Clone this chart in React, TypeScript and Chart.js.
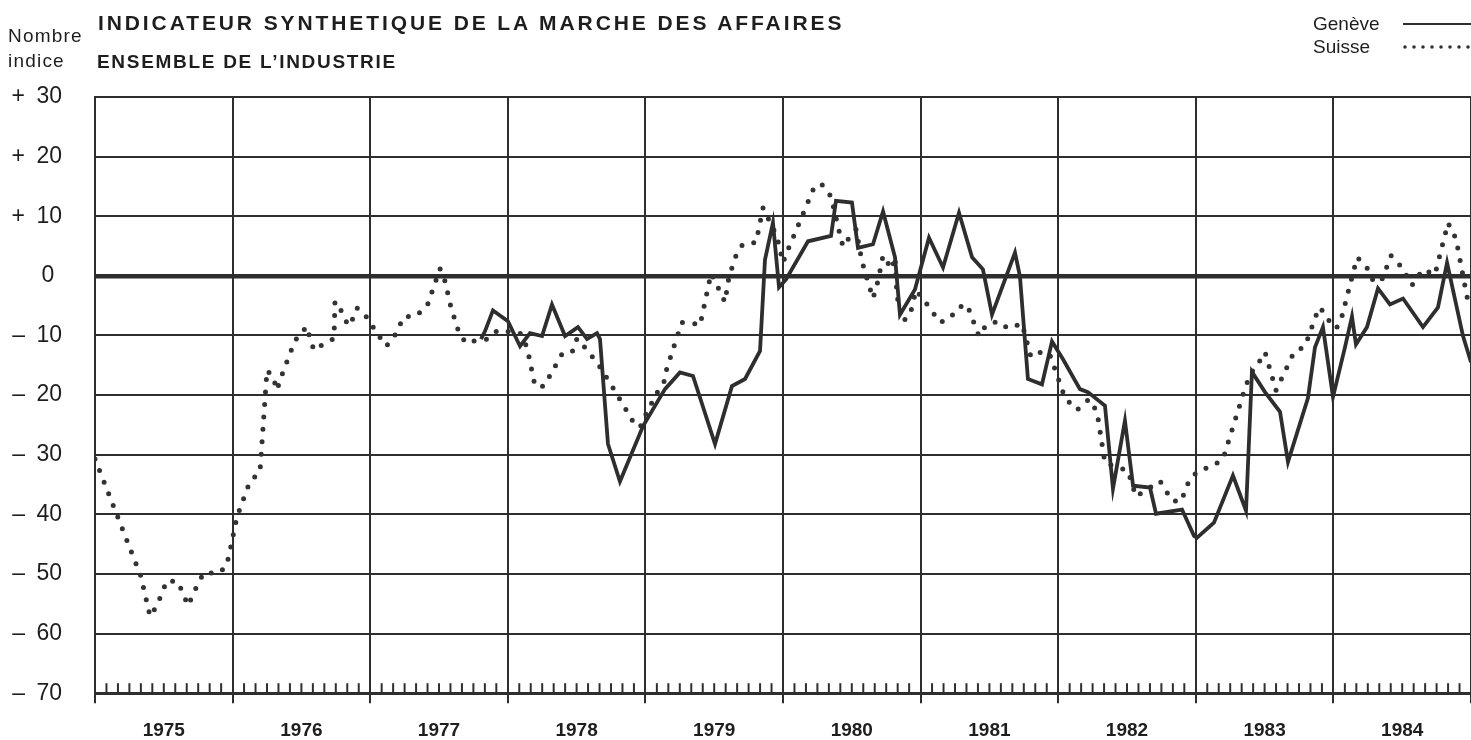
import React, { useEffect, useRef } from 'react';
import { Chart, registerables } from 'chart.js';

Chart.register(...registerables);

// Year boundaries (vertical grid) and year labels (centred in each year)
const years = [1975, 1976, 1977, 1978, 1979, 1980, 1981, 1982, 1983, 1984, 1985];
const yearLabels = ['1975', '1976', '1977', '1978', '1979', '1980', '1981', '1982', '1983', '1984'];
const yTicks = [30, 20, 10, 0, -10, -20, -30, -40, -50, -60, -70];

// Suisse (dotted line): time in decimal years, index value
const suisseT = [
  1975.0, 1975.334, 1975.4, 1975.45, 1975.523, 1975.603, 1975.676, 1975.749, 1975.792, 1975.894,
  1975.952, 1975.974, 1976.032, 1976.126, 1976.199, 1976.25, 1976.294, 1976.323, 1976.344, 1976.446,
  1976.475, 1976.541, 1976.562, 1976.592, 1976.65, 1976.737, 1976.744, 1976.802, 1976.839, 1976.882,
  1976.904, 1976.955, 1977.013, 1977.064, 1977.115, 1977.166, 1977.246, 1977.326, 1977.413, 1977.507,
  1977.544, 1977.587, 1977.645, 1977.696, 1977.776, 1977.849, 1977.929, 1978.089, 1978.14, 1978.198,
  1978.263, 1978.307, 1978.401, 1978.474, 1978.503, 1978.583, 1978.67, 1978.765, 1978.866, 1978.917,
  1978.961, 1979.012, 1979.092, 1979.142, 1979.15, 1979.208, 1979.266, 1979.339, 1979.397, 1979.477,
  1979.542, 1979.578, 1979.608, 1979.666, 1979.709, 1979.804, 1979.855, 1979.956, 1980.0, 1980.036,
  1980.182, 1980.218, 1980.276, 1980.349, 1980.414, 1980.436, 1980.472, 1980.531, 1980.574, 1980.654,
  1980.69, 1980.727, 1980.792, 1980.814, 1980.828, 1980.872, 1980.923, 1980.967, 1981.032, 1981.141,
  1981.214, 1981.272, 1981.337, 1981.424, 1981.475, 1981.562, 1981.635, 1981.737, 1981.802, 1981.89,
  1981.94, 1982.035, 1982.071, 1982.137, 1982.224, 1982.282, 1982.34, 1982.507, 1982.565, 1982.74,
  1982.827, 1982.892, 1982.958, 1983.038, 1983.118, 1983.198, 1983.365, 1983.408, 1983.445, 1983.503,
  1983.583, 1983.714, 1983.794, 1983.895, 1983.946, 1983.99, 1984.026, 1984.062, 1984.172, 1984.237,
  1984.295, 1984.353, 1984.419, 1984.499, 1984.571, 1984.651, 1984.738, 1984.833, 1984.891, 1984.978,
];
const suisseV = [
  -30.7, -50.4, -57.1, -55.3, -51.1, -51.3, -55.3, -51.6, -49.8, -49.9,
  -48.8, -46.9, -40.4, -34.5, -32.9, -15.8, -17.0, -19.2, -17.5, -11.3,
  -10.1, -8.5, -10.5, -12.5, -11.6, -10.5, -4.3, -6.3, -8.4, -6.9,
  -5.4, -6.3, -8.3, -10.1, -11.8, -10.6, -6.8, -6.8, -5.1, 1.2,
  -0.9, -5.3, -9.5, -11.3, -10.8, -10.6, -9.1, -9.6, -12.0, -18.5,
  -18.5, -16.7, -12.8, -12.6, -10.5, -12.6, -15.3, -18.8, -22.7, -24.7,
  -25.4, -22.8, -19.3, -17.5, -16.0, -11.8, -7.8, -7.9, -8.3, 0.4,
  -2.6, -4.4, -0.1, 3.9, 5.3, 5.6, 11.4, 6.6, 2.2, 4.4,
  12.4, 14.4, 15.5, 13.3, 6.9, 4.9, 6.1, 7.8, 2.4, -3.8,
  -0.9, 3.4, 1.1, 3.2, -3.4, -7.6, -6.6, -2.4, -4.3, -7.8,
  -7.1, -5.3, -4.8, -10.1, -8.3, -7.6, -8.8, -8.0, -13.6, -12.6,
  -13.3, -19.5, -21.0, -22.5, -20.7, -22.8, -31.4, -32.7, -37.0, -34.4,
  -37.7, -37.9, -33.9, -32.5, -32.0, -30.7, -18.3, -16.1, -15.0, -12.8,
  -19.2, -12.8, -11.8, -5.3, -6.4, -8.6, -8.6, -6.8, 3.1, 1.7,
  -1.1, -0.6, 3.4, 1.4, -1.6, 1.1, 0.2, 8.9, 6.2, -4.3,
];

// Genève (solid line)
const geneveT = [
  1977.805, 1977.834, 1977.892, 1978.001, 1978.089, 1978.161, 1978.249, 1978.321, 1978.416, 1978.51,
  1978.576, 1978.648, 1978.67, 1978.728, 1978.815, 1978.983, 1979.142, 1979.251, 1979.346, 1979.506,
  1979.629, 1979.724, 1979.833, 1979.869, 1979.927, 1979.971, 1980.022, 1980.182, 1980.349, 1980.385,
  1980.501, 1980.545, 1980.654, 1980.727, 1980.814, 1980.85, 1980.959, 1981.061, 1981.163, 1981.279,
  1981.374, 1981.453, 1981.519, 1981.686, 1981.722, 1981.78, 1981.882, 1981.955, 1982.035, 1982.158,
  1982.216, 1982.34, 1982.398, 1982.485, 1982.544, 1982.667, 1982.711, 1982.9, 1982.987, 1983.009,
  1983.132, 1983.27, 1983.365, 1983.408, 1983.503, 1983.612, 1983.67, 1983.815, 1983.866, 1983.924,
  1983.997, 1984.084, 1984.135, 1984.164, 1984.244, 1984.324, 1984.411, 1984.506, 1984.651, 1984.76,
  1984.826, 1984.942, 1985.0,
];
const geneveV = [
  -10.6, -9.3, -5.8, -7.6, -11.8, -9.6, -10.1, -4.8, -10.1, -8.6,
  -10.6, -9.6, -10.6, -28.2, -34.5, -25.2, -19.0, -16.2, -16.8, -28.2,
  -18.5, -17.3, -12.6, 2.7, 8.9, -1.9, -0.6, 5.8, 6.7, 12.6,
  12.3, 4.7, 5.3, 10.8, 3.1, -6.5, -2.3, 6.4, 1.4, 10.6,
  3.1, 1.1, -6.5, 3.9, -0.1, -17.3, -18.2, -11.0, -14.0, -19.0,
  -19.5, -21.8, -35.7, -24.3, -35.2, -35.5, -39.9, -39.2, -43.6, -43.9,
  -41.4, -33.5, -39.4, -16.1, -19.5, -22.8, -31.2, -20.5, -12.0, -8.6,
  -20.3, -12.0, -6.8, -11.5, -8.6, -2.1, -4.8, -3.8, -8.6, -5.3,
  2.2, -10.1, -14.5,
];

const INK = '#2e2e2e';

function isYear(v: number) {
  return Math.abs(v - Math.round(v)) < 0.01;
}

export default function App() {
  const ref = useRef<HTMLCanvasElement | null>(null);

  useEffect(() => {
    if (!ref.current) return;

    const tickValues: number[] = [];
    years.forEach((y, i) => {
      tickValues.push(y);
      if (i < yearLabels.length) tickValues.push(y + 0.5);
    });

    const minorTicks = {
      id: 'minorTicks',
      afterDatasetsDraw(chart: any) {
        const { ctx, chartArea, scales } = chart;
        const xs = scales.x;
        ctx.save();
        ctx.strokeStyle = INK;
        ctx.lineWidth = 2;
        ctx.lineCap = 'butt';
        for (let i = 0; i < yearLabels.length; i++) {
          for (let m = 1; m < 12; m++) {
            const px = xs.getPixelForValue(years[i] + m / 12);
            if (px > chartArea.right) continue;
            ctx.beginPath();
            ctx.moveTo(px, chartArea.bottom);
            ctx.lineTo(px, chartArea.bottom - 10);
            ctx.stroke();
          }
        }
        ctx.restore();
      },
    };

    const chart = new Chart(ref.current, {
      type: 'line',
      data: {
        datasets: [
          {
            label: 'Genève',
            data: geneveT.map((t, i) => ({ x: t, y: geneveV[i] })),
            borderColor: INK,
            borderWidth: 3.8,
            pointRadius: 0,
            tension: 0,
            borderJoinStyle: 'miter',
          },
          {
            label: 'Suisse',
            data: suisseT.map((t, i) => ({ x: t, y: suisseV[i] })),
            borderColor: '#333333',
            borderWidth: 5,
            borderDash: [0, 12.5],
            borderCapStyle: 'round',
            pointRadius: 0,
            tension: 0,
          },
        ],
      },
      options: {
        responsive: false,
        animation: false,
        layout: { padding: { top: 97, right: 0, left: 0, bottom: 0 } },
        plugins: { legend: { display: false }, tooltip: { enabled: false } },
        scales: {
          x: {
            type: 'linear',
            min: 1975,
            max: 1985,
            afterBuildTicks: (ax: any) => {
              ax.ticks = tickValues.map((v) => ({ value: v }));
            },
            afterFit: (ax: any) => {
              ax.height = 45;
              ax.paddingLeft = 0;
              ax.paddingRight = 0;
            },
            ticks: {
              autoSkip: false,
              maxRotation: 0,
              padding: 16,
              color: '#1e1e1e',
              font: { family: '"Liberation Sans Narrow", "Liberation Sans", Arial', size: 19, weight: 'bold' },
              callback: (v: any) => {
                const n = Number(v);
                if (isYear(n)) return '';
                const idx = Math.floor(n) - years[0];
                return yearLabels[idx] ?? '';
              },
            },
            grid: {
              color: (c: any) => (c.tick && isYear(c.tick.value) ? INK : 'rgba(0,0,0,0)'),
              tickColor: (c: any) => (c.tick && isYear(c.tick.value) ? INK : 'rgba(0,0,0,0)'),
              lineWidth: 2,
              tickLength: 10,
              tickWidth: 2,
            },
            border: { display: true, color: INK, width: 3 },
          },
          y: {
            type: 'linear',
            min: -70,
            max: 30,
            afterBuildTicks: (ax: any) => {
              ax.ticks = yTicks.map((v) => ({ value: v }));
            },
            afterFit: (ax: any) => {
              ax.width = 95;
            },
            ticks: {
              padding: 33,
              color: '#1e1e1e',
              font: { family: '"Liberation Sans", Arial', size: 23 },
              callback: (v: any) => {
                const n = Number(v);
                if (n > 0) return '+\u2002' + n;
                if (n < 0) return '\u2013\u2002' + Math.abs(n);
                return '0\u2004';
              },
            },
            grid: {
              color: INK,
              lineWidth: (c: any) => (c.tick && c.tick.value === 0 ? 4.5 : 2),
              drawTicks: false,
            },
            border: { display: true, color: INK, width: 2 },
          },
        },
      },
      plugins: [minorTicks],
    } as any);

    return () => chart.destroy();
  }, []);

  const sans = '"Liberation Sans", Arial, sans-serif';
  const txt = (extra: React.CSSProperties): React.CSSProperties => ({
    position: 'absolute',
    fontFamily: sans,
    lineHeight: 1,
    color: '#1e1e1e',
    whiteSpace: 'nowrap',
    ...extra,
  });

  return (
    <div style={{ position: 'fixed', left: 0, top: 0, width: 1471, height: 740, background: '#ffffff', overflow: 'hidden' }}>
      <canvas ref={ref} width={1471} height={740} style={{ position: 'absolute', left: 0, top: 0, display: 'block' }} />
      <div style={txt({ left: 98, top: 12, fontSize: 21, fontWeight: 'bold', letterSpacing: 2.9 })}>
        INDICATEUR SYNTHETIQUE DE LA MARCHE DES AFFAIRES
      </div>
      <div style={txt({ left: 97, top: 52, fontSize: 19, fontWeight: 'bold', letterSpacing: 1.7 })}>
        ENSEMBLE DE L’INDUSTRIE
      </div>
      <div style={txt({ left: 8, top: 25.5, fontSize: 19, letterSpacing: 1.2 })}>Nombre</div>
      <div style={txt({ left: 8, top: 50.5, fontSize: 19, letterSpacing: 1.2 })}>indice</div>
      <div style={txt({ left: 1313, top: 14, fontSize: 19 })}>Genève</div>
      <div style={txt({ left: 1313, top: 37, fontSize: 19 })}>Suisse</div>
      <svg width={1471} height={80} style={{ position: 'absolute', left: 0, top: 0 }}>
        <line x1={1403} y1={24} x2={1471} y2={24} stroke={INK} strokeWidth={2.2} />
        <line x1={1405} y1={47} x2={1471} y2={47} stroke={INK} strokeWidth={3.5} strokeDasharray="0 9" strokeLinecap="round" />
      </svg>
    </div>
  );
}
